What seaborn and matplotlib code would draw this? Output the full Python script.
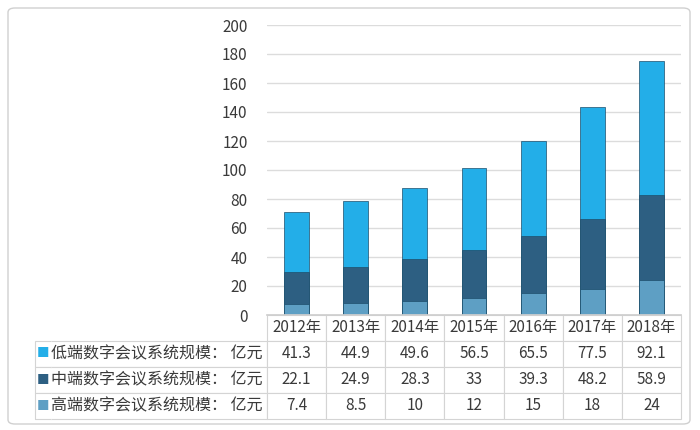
import seaborn as sns
import matplotlib.pyplot as plt
from matplotlib.patches import FancyBboxPatch

# 数据
years = ['2012年', '2013年', '2014年', '2015年', '2016年', '2017年', '2018年']
low_end = [41.3, 44.9, 49.6, 56.5, 65.5, 77.5, 92.1]
mid_end = [22.1, 24.9, 28.3, 33, 39.3, 48.2, 58.9]
high_end = [7.4, 8.5, 10, 12, 15, 18, 24]   # 2016-2018 被水印遮挡, 按柱高估计
row_names = ['低端数字会议系统规模： 亿元', '中端数字会议系统规模： 亿元', '高端数字会议系统规模： 亿元']

c_low, c_mid, c_high = '#23aee8', '#2d5f82', '#5e9fc4'

sns.set_theme(style='white')
plt.rcParams['font.family'] = ['Noto Sans CJK SC', 'DejaVu Sans']

fig = plt.figure(figsize=(7, 4.3), dpi=100)
ax = fig.add_axes([267 / 700, 1 - 315 / 430, 414 / 700, 290 / 430])

# 堆叠柱: 先画总高, 再叠加下面两层
total = [h + m + l for h, m, l in zip(high_end, mid_end, low_end)]
lower2 = [h + m for h, m in zip(high_end, mid_end)]
for vals, col in [(total, c_low), (lower2, c_mid), (high_end, c_high)]:
    sns.barplot(x=years, y=vals, color=col, width=0.42, ax=ax,
                edgecolor='#1d4e6b', linewidth=0.5, saturation=1)

ax.set_ylim(0, 200)
ax.set_yticks(range(0, 201, 20))
ax.set_xlim(-0.5, 6.5)
ax.yaxis.grid(True, color='#dcdcdc', linewidth=1)
ax.set_axisbelow(True)
ax.set_xticks([])
ax.tick_params(axis='y', labelsize=11, colors='#3a3a3a', pad=14, length=0)
for s in ['left', 'right', 'top']:
    ax.spines[s].set_visible(False)
ax.spines['bottom'].set_color('#cfcfcf')

# 数据表
cell_text = []
for name, vals in zip(row_names, [low_end, mid_end, high_end]):
    cell_text.append(['■', name] + [f'{v:g}' for v in vals])
col_w = [16, 216] + [414 / 7] * 7
tot_w = sum(col_w)
tbl = ax.table(cellText=cell_text, colLabels=['', ''] + years,
               colWidths=[w / tot_w for w in col_w], cellLoc='center',
               bbox=[-(267 - 35) / 414, -(419 - 315) / 290, tot_w / 414, 104 / 290])
tbl.auto_set_font_size(False)
tbl.set_fontsize(11)
marker_colors = [c_low, c_mid, c_high]
for (r, c), cell in tbl.get_celld().items():
    cell.set_edgecolor('#d4d4d4')
    cell.set_linewidth(0.8)
    cell.get_text().set_color('#3a3a3a')
    if r == 0 and c < 2:
        cell.visible_edges = ''
    elif c == 0:
        cell.visible_edges = 'LTB'
        cell.get_text().set_color(marker_colors[r - 1])
        cell.get_text().set_fontsize(9)
    elif c == 1 and r > 0:
        cell.visible_edges = 'TBR'
        cell.get_text().set_horizontalalignment('left')
        cell._loc = 'left'
        cell.PAD = 0.0
        cell.get_text().set_fontsize(11.5)

# 外框
fig.patches.append(FancyBboxPatch((8 / 700, 6 / 430), 682 / 700, 416 / 430,
                                  boxstyle='round,pad=0,rounding_size=0.01',
                                  transform=fig.transFigure, fill=False,
                                  edgecolor='#d0d0d0', linewidth=1))

fig.savefig('out.png', dpi=100)
